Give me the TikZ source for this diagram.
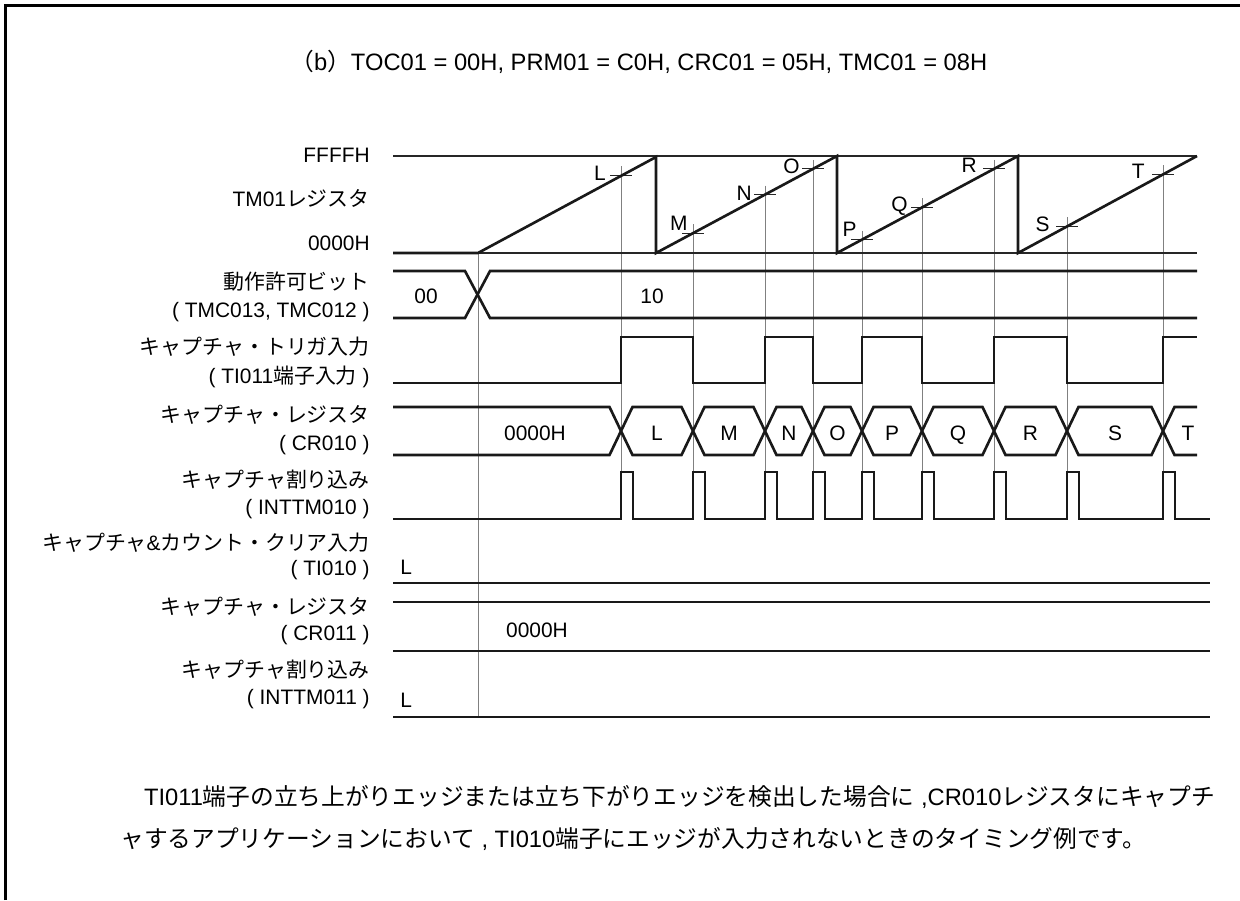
\documentclass[tikz,border=0pt]{standalone}
\usepackage{fontspec}
\setmainfont{Liberation Sans}
\newfontfamily\jpfont{Noto Sans CJK JP}
\newcommand{\ja}[1]{{\jpfont #1}}
\usetikzlibrary{positioning}

\begin{document}
\begin{tikzpicture}[
  x=0.02cm,y=-0.02cm,
  sig/.style={line width=1.5pt,black!90},
  guide/.style={line width=0.55pt,black!50},
  refline/.style={line width=0.6pt,black!85},
  lab/.style={anchor=east,inner sep=0pt,text height=8.6pt,text depth=0pt,
              font=\fontsize{11.9}{14}\selectfont},
  val/.style={inner sep=0pt,text height=8.6pt,text depth=0pt,
              font=\fontsize{11.9}{14}\selectfont},
  capname/.style={anchor=base east,inner sep=0pt,
                  font=\fontsize{11.9}{14}\selectfont},
  note/.style={anchor=west,inner sep=0pt,font=\fontsize{13.5}{16}\selectfont},
]
  \useasboundingbox (0,0) rectangle (1240,900);

  % Frame
  \draw[line width=1.6pt] (5.3,900) -- (5.3,5.5) -- (1240,5.5);

  % Title
  \node[note] (title) at (290,62)
    {\ja{（}b\ja{）}TOC01 = 00H, PRM01 = C0H, CRC01 = 05H, TMC01 = 08H};

  % Row labels
  \foreach \y/\t [count=\i] in {
      155/FFFFH, 199/{TM01\ja{レジスタ}}, 243/0000H,
      282/{\ja{動作許可ビット}}, 310/{( TMC013, TMC012 )},
      347/{\ja{キャプチャ・トリガ入力}}, 376/{( TI011\ja{端子入力} )},
      415/{\ja{キャプチャ・レジスタ}}, 443/{( CR010 )},
      480/{\ja{キャプチャ割り込み}}, 507/{( INTTM010 )},
      543/{\ja{キャプチャ}\&\ja{カウント・クリア入力}}, 568/{( TI010 )},
      607/{\ja{キャプチャ・レジスタ}}, 633/{( CR011 )},
      670/{\ja{キャプチャ割り込み}}, 697/{( INTTM011 )}}
    \node[lab] (lbl\i) at (370,\y) {\t};

  % Start line
  \draw[guide] (478,253) -- (478,717);

  % Capture points on the counter
  \foreach \n/\x/\s/\e/\dx/\dy in {
      L/621/478/656/-15/5, M/693/656/837/-5/-3, N/765/656/837/-13/6,
      O/813/656/837/-13/5, P/862/837/1018/-5/-3, Q/922/837/1018/-14/4,
      R/994/837/1018/-17/4, S/1067/1018/1197/-17/5, T/1163/1018/1197/-18/4}{
    \pgfmathsetmacro{\ty}{253-97*(\x-\s)/(\e-\s)}
    \draw[guide] (\x,\ty-9) -- (\x,472);
    \draw[refline] (\x-11,\ty) -- (\x+11,\ty);
    \node[capname] (cap\n) at (\x+\dx,\ty+\dy) {\n};
  }

  % TM01 register
  \draw[refline] (393,156) -- (1197,156);
  \draw[refline] (478,253) -- (1197,253);
  \draw[sig] (393,253) -- (478,253) -- (656,157) -- (656,253)
    -- (837,156) -- (837,253) -- (1018,156) -- (1018,253) -- (1197,156);

  % Enable bits
  \draw[sig] (393,271) -- (465,271) -- (490,318) -- (1197,318);
  \draw[sig] (393,318) -- (465,318) -- (490,271) -- (1197,271);
  \node[val] (en0) at (426,296) {00};
  \node[val] (en1) at (652,296) {10};

  % Capture trigger input
  \draw[sig] (393,383) foreach \x/\a/\b in {621/383/337, 693/337/383,
      765/383/337, 813/337/383, 862/383/337, 922/337/383, 994/383/337,
      1067/337/383, 1163/383/337} { -- (\x,\a) -- (\x,\b) } -- (1197,337);

  % CR010
  \draw[sig] (393,407) -- (609.5,407) -- (621,431) -- (609.5,455) -- (393,455);
  \node[val] (cr0) at (535,433) {0000H};
  \foreach \a/\b/\v in {621/693/L, 693/765/M, 765/813/N, 813/862/O,
      862/922/P, 922/994/Q, 994/1067/R, 1067/1163/S}{
    \draw[sig] (\a+11.5,407) -- (\b-11.5,407) -- (\b,431) -- (\b-11.5,455)
      -- (\a+11.5,455) -- (\a,431) -- cycle;
    \node[val] (cr\v) at ({(\a+\b)/2},433) {\v};
  }
  \draw[sig] (1197,407) -- (1174.5,407) -- (1163,431) -- (1174.5,455) -- (1197,455);
  \node[val] (crT) at (1188,433) {T};

  % INTTM010
  \draw[sig] (393,519) foreach \x in {621,693,765,813,862,922,994,1067,1163}
    { -- (\x,519) -- (\x,472) -- (\x+12,472) -- (\x+12,519) } -- (1210,519);

  % TI010
  \draw[sig] (393,583) -- (1210,583);
  \node[val,anchor=west] (ti0) at (400,567) {L};

  % CR011
  \draw[sig] (393,602) -- (1210,602);
  \draw[sig] (393,651) -- (1210,651);
  \node[val] (cr1) at (537,630) {0000H};

  % INTTM011
  \draw[sig] (393,717) -- (1210,717);
  \node[val,anchor=west] (int1) at (400,700) {L};

  % Note
  \node[note] (note1) at (120,797)
    {\ja{　}TI011\ja{端子の立ち上がりエッジまたは立ち下がりエッジを検出した場合に} ,CR010\ja{レジスタにキャプチ}};
  \node[note] (note2) at (120,839)
    {\ja{ャするアプリケーションにおいて} , TI010\ja{端子にエッジが入力されないときのタイミング例です。}};
\end{tikzpicture}
\end{document}
